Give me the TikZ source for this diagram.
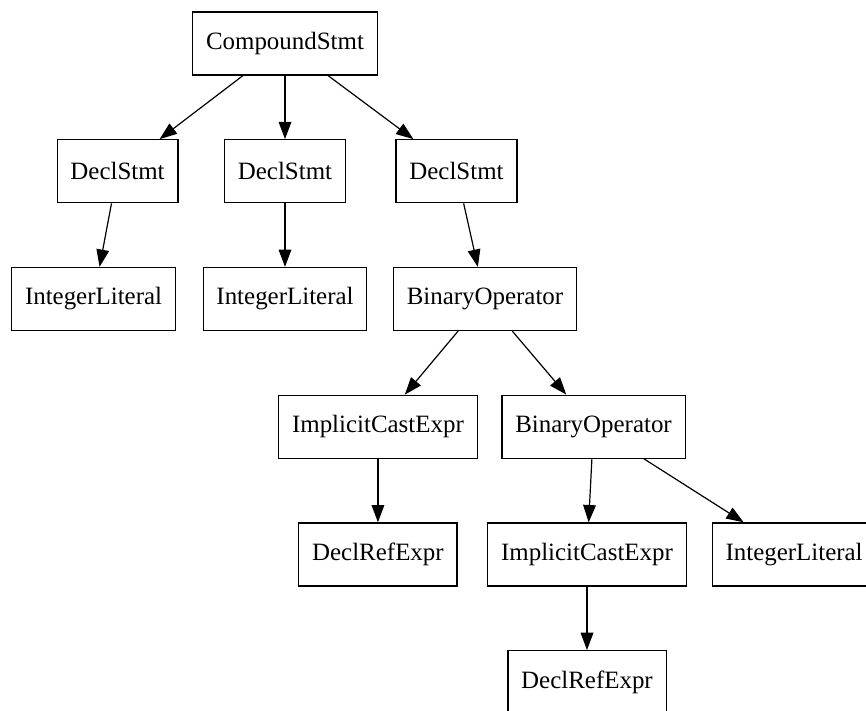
\documentclass[tikz,border=0pt]{standalone}
\usepackage{fontspec}
\setmainfont{Liberation Serif}
\usetikzlibrary{arrows.meta}

\begin{document}
\begin{tikzpicture}[x=0.75pt, y=-0.75pt, node distance=95.8pt, line width=0.9pt,
    astnode/.style={draw, rectangle, minimum height=47.25pt, inner xsep=10pt,
      font=\fontsize{18.7pt}{22pt}\selectfont},
    >={Triangle[length=13pt, width=9.5pt]}]
    \useasboundingbox (0,0) rectangle (866,710);
    \clip (0,0) rectangle (866,710);
    \node (compound) [astnode] at (285,43.5) {CompoundStmt};
    \node (declA) [astnode, below of=compound, xshift=-125.6pt] {DeclStmt};
    \node (declB) [astnode, below of=compound] {DeclStmt};
    \node (declC) [astnode, below of=compound, xshift=128.6pt] {DeclStmt};
    \node (litA) [astnode, below of=declA, xshift=-18pt] {IntegerLiteral};
    \node (litB) [astnode, below of=declB] {IntegerLiteral};
    \node (binopA) [astnode, below of=declC, xshift=21.4pt] {BinaryOperator};
    \node (castA) [astnode, below of=binopA, xshift=-80.3pt] {ImplicitCastExpr};
    \node (binopB) [astnode, below of=binopA, xshift=81.4pt] {BinaryOperator};
    \node (refA) [astnode, below of=castA] {DeclRefExpr};
    \node (castB) [astnode, below of=binopB, xshift=-4.9pt] {ImplicitCastExpr};
    \node (litC) [astnode, below of=binopB, xshift=150.4pt] {IntegerLiteral};
    \node (refB) [astnode, below of=castB] {DeclRefExpr};
    \draw[->] (compound) -- (declA);
    \draw[->] (compound) -- (declB);
    \draw[->] (compound) -- (declC);
    \draw[->] (declA) -- (litA);
    \draw[->] (declB) -- (litB);
    \draw[->] (declC) -- (binopA);
    \draw[->] (binopA) -- (castA);
    \draw[->] (binopA) -- (binopB);
    \draw[->] (castA) -- (refA);
    \draw[->] (binopB) -- (castB);
    \draw[->] (binopB) -- (litC);
    \draw[->] (castB) -- (refB);
  \end{tikzpicture}
\end{document}
